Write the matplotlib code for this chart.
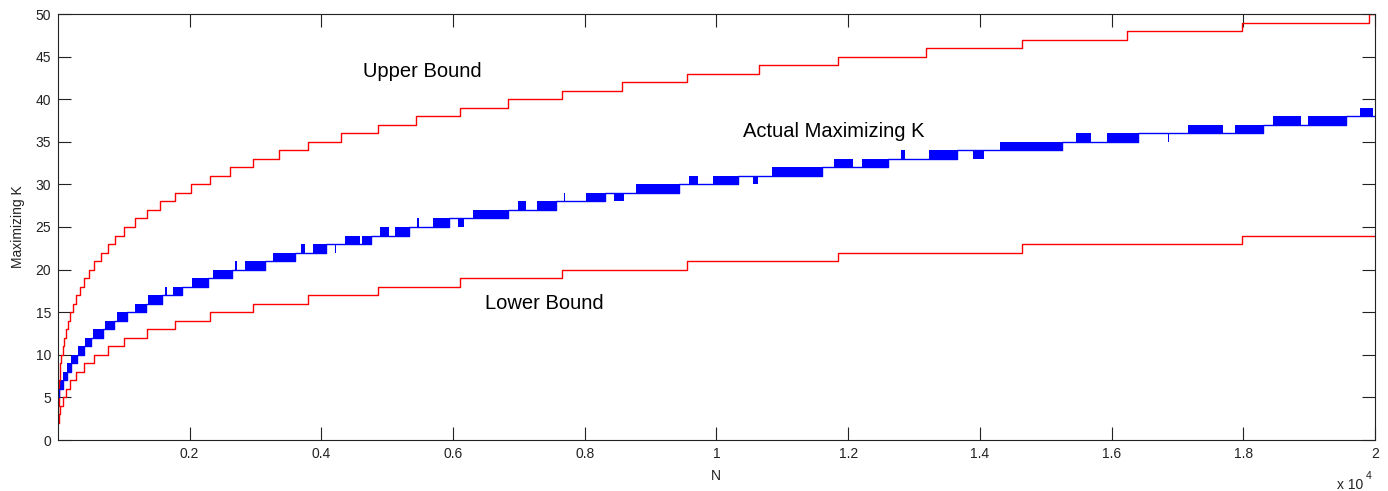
import matplotlib
matplotlib.use("Agg")
import matplotlib.pyplot as plt
import numpy as np

plt.rcParams["font.family"] = ["Liberation Sans", "DejaVu Sans"]

# upper bound: N where the bound steps up to the given K
upper_n = [1, 5, 8, 11, 14, 20, 27, 38, 52, 75, 98, 125, 150, 185, 222, 276,
           330, 395, 471, 552, 648, 755, 870, 998, 1174, 1347, 1549, 1777,
           2020, 2308, 2612, 2966, 3361, 3792, 4293, 4855, 5432, 6105, 6839,
           7658, 8560, 9547, 10645, 11850, 13176, 14634, 16239, 17985, 19912]
upper_k = [2, 3, 4, 5, 6, 7, 8, 9, 10, 11, 12, 13, 14, 15, 16, 17, 18, 19, 20,
           21, 22, 23, 24, 25, 26, 27, 28, 29, 30, 31, 32, 33, 34, 35, 36, 37,
           38, 39, 40, 41, 42, 43, 44, 45, 46, 47, 48, 49, 50]

# lower bound
lower_n = [1, 20, 38, 75, 125, 185, 276, 395, 552, 755, 998, 1347, 1777, 2308,
           2966, 3792, 4855, 6105, 7658, 9547, 11850, 14634, 17985]
lower_k = [2, 3, 4, 5, 6, 7, 8, 9, 10, 11, 12, 13, 14, 15, 16, 17, 18, 19, 20,
           21, 22, 23, 24]

# actual maximizing K: settled level after each transition
actual_n = [1, 15, 70, 135, 205, 284, 390, 496, 689, 850, 1053, 1336, 1575,
            1878, 2283, 2637, 3144, 3599, 4070, 4749, 5335, 5938, 6829, 7563,
            8307, 9435, 10331, 11607, 12609, 13648, 15242, 16406, 18305, 19560]
actual_k = [5, 6, 7, 8, 9, 10, 11, 12, 13, 14, 15, 16, 17, 18, 19, 20, 21, 22,
            23, 24, 25, 26, 27, 28, 29, 30, 31, 32, 33, 34, 35, 36, 37, 38]

# ranges where the actual K flips between k and k+1
flip_start = [1, 15, 70, 135, 205, 309, 410, 527, 714, 901, 1169, 1372, 1630,
              1742, 2030, 2349, 2695, 2840, 3260, 3686, 3868, 4200, 4358, 4612,
              4890, 5118, 5447, 5700, 6079, 6307, 6990, 7270, 7680, 8018, 8443,
              8773, 9582, 9951, 10559, 10838, 11784, 12205, 12797, 13227, 13900,
              14305, 15455, 15926, 16855, 17165, 17874, 18456, 18987, 19772]
flip_end = [15, 70, 135, 205, 284, 390, 496, 689, 850, 1053, 1336, 1575, 1650,
            1878, 2283, 2637, 2712, 3144, 3599, 3751, 4070, 4218, 4586, 4749,
            5031, 5335, 5487, 5938, 6170, 6829, 7102, 7563, 7698, 8307, 8600,
            9435, 9715, 10331, 10635, 11607, 12068, 12609, 12863, 13648, 14067,
            15242, 15683, 16406, 16872, 17696, 18305, 18872, 19560, 19965]
flip_low = [5, 6, 7, 8, 9, 10, 11, 12, 13, 14, 15, 16, 17, 17, 18, 19, 20, 20,
            21, 22, 22, 22, 23, 23, 24, 24, 25, 25, 25, 26, 27, 27, 28, 28, 28,
            29, 30, 30, 30, 31, 32, 32, 33, 33, 33, 34, 35, 35, 35, 36, 36, 37,
            37, 38]

x_ticks = [2000, 4000, 6000, 8000, 10000, 12000, 14000, 16000, 18000, 20000]
x_tick_labels = ["0.2", "0.4", "0.6", "0.8", "1", "1.2", "1.4", "1.6", "1.8", "2"]
y_ticks = [0, 5, 10, 15, 20, 25, 30, 35, 40, 45, 50]
n_max = 20000

fig = plt.figure(figsize=(13.88, 4.91), dpi=100)
ax = fig.add_axes([58 / 1388, 1 - 440 / 491, 1317 / 1388, 426 / 491])

ax.step(np.append(upper_n, n_max), np.append(upper_k, upper_k[-1]),
        where="post", color="#ff0000", lw=1.0)
ax.step(np.append(lower_n, n_max), np.append(lower_k, lower_k[-1]),
        where="post", color="#ff0000", lw=1.0)
ax.step(np.append(actual_n, n_max), np.append(actual_k, actual_k[-1]),
        where="post", color="#0000ff", lw=1.0)
widths = np.array(flip_end) - np.array(flip_start)
ax.bar(flip_start, 1, width=widths, bottom=flip_low, align="edge",
       color="#0000ff", linewidth=0)

ax.text(4632, 42.6, "Upper Bound", fontsize=14.5, va="baseline")
ax.text(10407, 35.6, "Actual Maximizing K", fontsize=14.5, va="baseline")
ax.text(6484, 15.35, "Lower Bound", fontsize=14.5, va="baseline")

ax.set_xlim(1, n_max)
ax.set_ylim(0, 50)
ax.set_xticks(x_ticks)
ax.set_xticklabels(x_tick_labels)
ax.set_yticks(y_ticks)
ax.tick_params(direction="in", length=9.5, width=0.8, top=True, right=True,
               labelsize=10, colors="#222222", pad=5)
for s in ax.spines.values():
    s.set_color("#222222")
    s.set_linewidth(0.8)

fig.text(18 / 1388, 1 - 227 / 491, "Maximizing K", rotation=90,
         ha="center", va="center", fontsize=10, color="#222222")
fig.text(716 / 1388, 1 - 476 / 491, "N", ha="center", va="center",
         fontsize=10, color="#222222")
fig.text(1337 / 1388, 1 - 485 / 491, "x 10", ha="left", va="center",
         fontsize=10, color="#222222")
fig.text(1366 / 1388, 1 - 476 / 491, "4", ha="left", va="center",
         fontsize=7.5, color="#222222")

fig.savefig("out.png", dpi=100)
